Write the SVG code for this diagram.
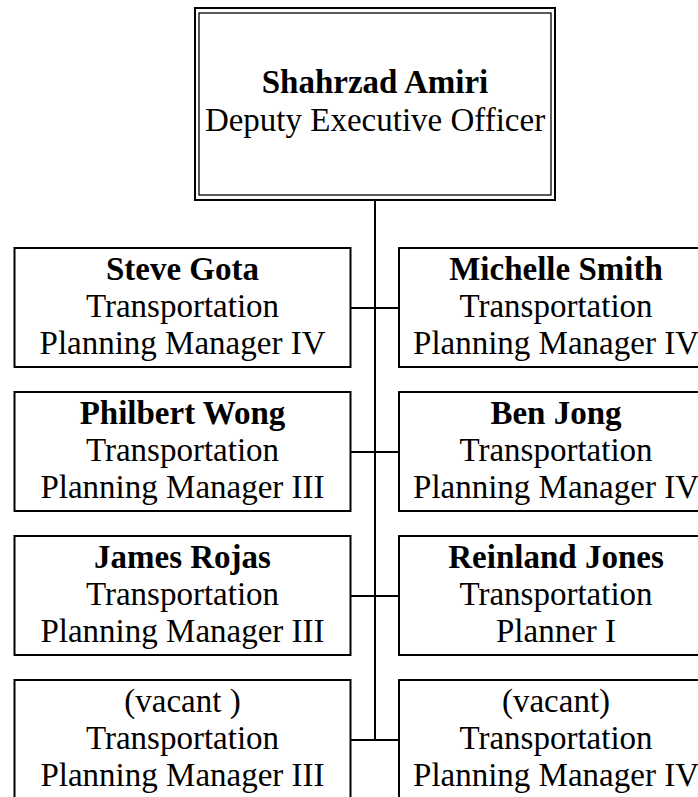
<svg xmlns="http://www.w3.org/2000/svg" width="698" height="797" viewBox="0 0 698 797">
<style>
.box{fill:#fff;stroke:#000;stroke-width:2}
.t{font-family:"Liberation Serif","Times New Roman",serif;font-size:33px;fill:#000;text-anchor:middle}
.b{font-weight:bold}
.c{stroke:#000;stroke-width:2;fill:none}
</style>
<rect width="698" height="797" fill="#fff"/>
<g id="connectors">
<line class="c" x1="375" y1="200" x2="375" y2="740"/>
<line class="c" x1="351" y1="308" x2="399" y2="308"/>
<line class="c" x1="351" y1="452" x2="399" y2="452"/>
<line class="c" x1="351" y1="596" x2="399" y2="596"/>
<line class="c" x1="351" y1="740" x2="399" y2="740"/>
</g>
<g id="node-amiri">
<rect class="box" x="195" y="8" width="360" height="192"/>
<rect x="199" y="13" width="352" height="182" fill="none" stroke="#000" stroke-width="1.3"/>
<text class="t b" x="375" y="93">Shahrzad Amiri</text>
<text class="t" x="375" y="131">Deputy Executive Officer</text>
</g>
<g id="node-gota">
<rect class="box" x="14.5" y="248" width="336" height="119"/>
<text class="t b" x="182.5" y="280">Steve Gota</text>
<text class="t" x="182.5" y="317">Transportation</text>
<text class="t" x="182.5" y="354">Planning Manager IV</text>
</g>
<g id="node-smith">
<rect class="box" x="399" y="248" width="340" height="119"/>
<text class="t b" x="556" y="280">Michelle Smith</text>
<text class="t" x="556" y="317">Transportation</text>
<text class="t" x="556" y="354">Planning Manager IV</text>
</g>
<g id="node-wong">
<rect class="box" x="14.5" y="392" width="336" height="119"/>
<text class="t b" x="182.5" y="424">Philbert Wong</text>
<text class="t" x="182.5" y="461">Transportation</text>
<text class="t" x="182.5" y="498">Planning Manager III</text>
</g>
<g id="node-jong">
<rect class="box" x="399" y="392" width="340" height="119"/>
<text class="t b" x="556" y="424">Ben Jong</text>
<text class="t" x="556" y="461">Transportation</text>
<text class="t" x="556" y="498">Planning Manager IV</text>
</g>
<g id="node-rojas">
<rect class="box" x="14.5" y="536" width="336" height="119"/>
<text class="t b" x="182.5" y="568">James Rojas</text>
<text class="t" x="182.5" y="605">Transportation</text>
<text class="t" x="182.5" y="642">Planning Manager III</text>
</g>
<g id="node-jones">
<rect class="box" x="399" y="536" width="340" height="119"/>
<text class="t b" x="556" y="568">Reinland Jones</text>
<text class="t" x="556" y="605">Transportation</text>
<text class="t" x="556" y="642">Planner I</text>
</g>
<g id="node-vacant-left">
<rect class="box" x="14.5" y="680" width="336" height="130"/>
<text class="t" x="182.5" y="712">(vacant )</text>
<text class="t" x="182.5" y="749">Transportation</text>
<text class="t" x="182.5" y="786">Planning Manager III</text>
</g>
<g id="node-vacant-right">
<rect class="box" x="399" y="680" width="340" height="130"/>
<text class="t" x="556" y="712">(vacant)</text>
<text class="t" x="556" y="749">Transportation</text>
<text class="t" x="556" y="786">Planning Manager IV</text>
</g>
</svg>
